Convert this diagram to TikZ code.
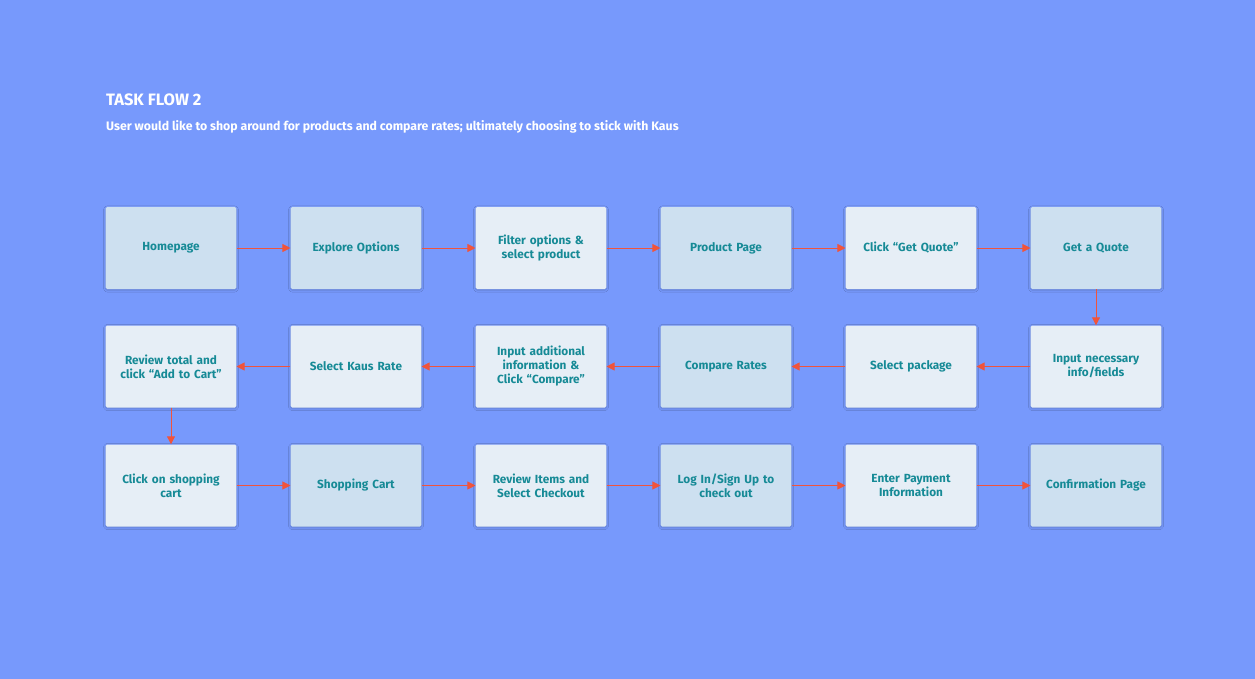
\documentclass[tikz,border=0pt]{standalone}
\usepackage{fontspec}
\setmainfont{Fira Sans}
\usetikzlibrary{arrows.meta,shadows.blur}
\definecolor{bgblue}{RGB}{119,153,252}
\definecolor{boxdark}{RGB}{205,224,240}
\definecolor{boxlight}{RGB}{230,238,246}
\definecolor{tealtext}{RGB}{22,138,150}
\definecolor{flowred}{RGB}{240,84,60}
\tikzset{
  stepdark/.style={rectangle,rounded corners=1.5pt,fill=boxdark,minimum width=130pt,minimum height=82pt,
    text width=124pt,align=center,font=\fontsize{11.8}{14}\selectfont\bfseries,text=tealtext,
    blur shadow={shadow xshift=0pt,shadow yshift=-1pt,shadow blur steps=4,shadow opacity=20}},
  steplight/.style={stepdark,fill=boxlight},
  flow/.style={-{Triangle[length=8pt,width=8pt]},draw=flowred,line width=1pt}
}
\begin{document}
\begin{tikzpicture}[x=1pt,y=-1pt]
\fill[bgblue] (0,0) rectangle (1255,679);
\useasboundingbox (0,0) rectangle (1255,679);
\node[anchor=west,inner sep=0pt,text=white,font=\fontsize{16.5}{18}\selectfont\bfseries] (title) at (106,100) {TASK FLOW 2};
\node[anchor=west,inner sep=0pt,text=white,font=\fontsize{12.3}{14}\selectfont\bfseries] (sub) at (106,127) {User would like to shop around for products and compare rates; ultimately choosing to stick with Kaus};
% row 1
\node[stepdark]  (a1) at (171,248) {Homepage};
\node[stepdark]  (a2) at (356,248) {Explore Options};
\node[steplight] (a3) at (541,248) {Filter options \&\\ select product};
\node[stepdark]  (a4) at (726,248) {Product Page};
\node[steplight] (a5) at (911,248) {Click “Get Quote”};
\node[stepdark]  (a6) at (1096,248) {Get a Quote};
% row 2
\node[steplight] (b6) at (1096,366.5) {Input necessary\\ info/fields};
\node[steplight] (b5) at (911,366.5) {Select package};
\node[stepdark]  (b4) at (726,366.5) {Compare Rates};
\node[steplight] (b3) at (541,366.5) {Input additional\\ information \&\\ Click “Compare”};
\node[steplight] (b2) at (356,366.5) {Select Kaus Rate};
\node[steplight] (b1) at (171,366.5) {Review total and\\ click “Add to Cart”};
% row 3
\node[steplight] (c1) at (171,485.5) {Click on shopping\\ cart};
\node[stepdark]  (c2) at (356,485.5) {Shopping Cart};
\node[steplight] (c3) at (541,485.5) {Review Items and\\ Select Checkout};
\node[stepdark]  (c4) at (726,485.5) {Log In/Sign Up to\\ check out};
\node[steplight] (c5) at (911,485.5) {Enter Payment\\ Information};
\node[stepdark]  (c6) at (1096,485.5) {Confirmation Page};
\foreach \r in {a,c}{
  \foreach \i [evaluate=\i as \j using int(\i+1)] in {1,...,5}
    \draw[flow] (\r\i) -- (\r\j);
}
\foreach \i [evaluate=\i as \j using int(\i-1)] in {6,...,2}
  \draw[flow] (b\i) -- (b\j);
\draw[flow] (a6) -- (b6);
\draw[flow] (b1) -- (c1);
\end{tikzpicture}
\end{document}
